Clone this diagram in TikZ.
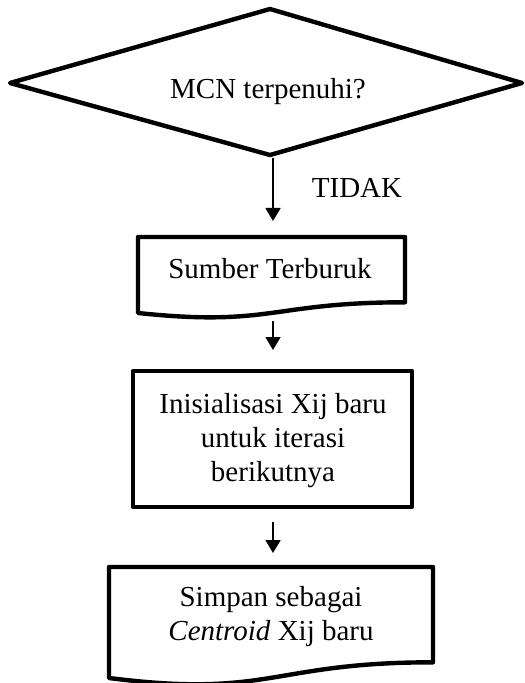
\documentclass[tikz,border=0pt]{standalone}
\usepackage{fontspec}
\setmainfont{Liberation Serif}
\usetikzlibrary{arrows.meta}
\begin{document}
\begin{tikzpicture}[x=0.5pt,y=-0.5pt,
  outline/.style={line width=2.2pt,line join=round},
  flow/.style={line width=0.9pt,-{Triangle[length=6.5pt,width=7.5pt]}},
  lbl/.style={font=\fontsize{14.5}{17}\selectfont,inner sep=0pt,anchor=base},
]
\useasboundingbox (0,0) rectangle (524,683);

% decision: MCN reached?
\draw[outline] (10,83) -- (270,9) -- (522,83) -- (270,155) -- cycle;
\node[lbl] (mcn) at (268,99) {MCN terpenuhi?};
\coordinate (mcnout) at (273,158);

% document: worst source
\draw[outline] (138,237) -- (405,237) -- (405,302.3)
  .. controls (271.5,302.3) and (271.5,327.1) .. (138,313) -- cycle;
\node[lbl] (worst) at (270,279) {Sumber Terburuk};
\coordinate (worstin) at (273,221);
\coordinate (worstout) at (273,321);

% process: new Xij initialisation
\draw[outline] (133,371) rectangle (412,507);
\node[lbl] (init1) at (273,413) {Inisialisasi Xij baru};
\node[lbl] (init2) at (273,447) {untuk iterasi};
\node[lbl] (init3) at (273,481) {berikutnya};
\coordinate (initin) at (273,350);
\coordinate (initout) at (273,522);

% document: store as new centroid
\draw[outline] (109,567) -- (433,567) -- (433,662.3)
  .. controls (271,662.3) and (271,698.5) .. (109,678) -- cycle;
\node[lbl] (save1) at (271,606) {Simpan sebagai};
\node[lbl] (save2) at (271,640) {\textit{Centroid} Xij baru};
\coordinate (savein) at (273,553);

% connectors
\draw[flow] (mcnout) -- (worstin);
\node[lbl] (tidak) at (357,198) {TIDAK};
\draw[flow] (worstout) -- (initin);
\draw[flow] (initout) -- (savein);
\end{tikzpicture}
\end{document}
